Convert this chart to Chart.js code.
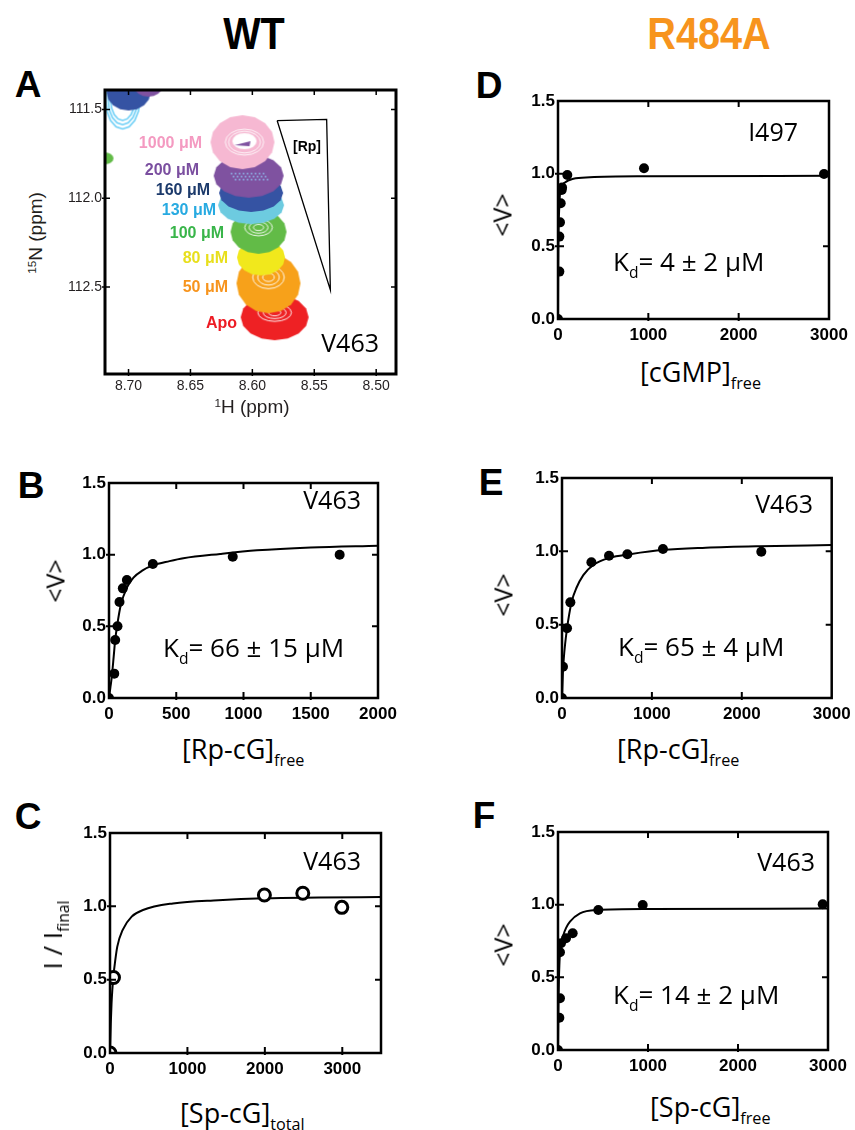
<!DOCTYPE html>
<html>
<head>
<meta charset="utf-8">
<script src="https://cdn.jsdelivr.net/npm/chart.js@4.4.1/dist/chart.umd.min.js"></script>
<style>
  body { margin: 0; width: 855px; height: 1130px; position: relative; overflow: hidden; background: #fff; }
  canvas { position: absolute; }
  .t { position: absolute; white-space: nowrap; line-height: 1; font-family: "Open Sans", sans-serif; color: #000; }
  .mid { transform: translate(-50%, -50%); }
  .right { transform: translate(-100%, -50%); }
  .left { transform: translateY(-50%); }
  .rot { transform: translate(-50%, -50%) rotate(-90deg); }
  .sub { font-size: 0.6em; position: relative; top: 0.45em; }
  .sup { font-size: 0.62em; position: relative; top: -0.5em; }
  .letter { font-family: "Liberation Sans", Arial, sans-serif; font-weight: bold; font-size: 37px; }
  .head { font-family: "Liberation Sans", Arial, sans-serif; font-weight: bold; font-size: 44px; transform: translate(-50%, -50%) scaleX(0.9); }
  .conc { font-family: "Liberation Sans", Arial, sans-serif; font-weight: bold; font-size: 16px; }
  .ppm { font-family: "Liberation Sans", Arial, sans-serif; font-size: 19px; color: #231f20; }
</style>
</head>
<body>
<script>
// Panel A: 1H/15N peak centres (ppm) of V463, from Apo up to 1000 uM Rp-cG
const peakLabels = ['Apo', '50 μM', '80 μM', '100 μM', '130 μM', '160 μM', '200 μM', '1000 μM'];
const peakH = [8.582, 8.587, 8.593, 8.595, 8.601, 8.601, 8.603, 8.608];
const peakN = [112.670, 112.479, 112.333, 112.189, 112.039, 111.970, 111.873, 111.684];
// neighbouring peaks cut by the top-left corner
const edgeH = [8.7048, 8.700, 8.684, 8.7194];
const edgeN = [111.449, 111.404, 111.371, 111.775];
// [Rp] wedge
const triH = [8.580, 8.540, 8.537, 8.580];
const triN = [111.562, 111.556, 112.517, 111.562];
const aXTicks = [8.70, 8.65, 8.60, 8.55, 8.50];
const aYTicks = [111.5, 112.0, 112.5];

// Panel B: WT, Rp-cG (free)
const bX = [0, 39, 46, 63, 78, 103, 133, 326, 920, 1715];
const bY = [0, 0.17, 0.405, 0.50, 0.67, 0.765, 0.823, 0.935, 0.986, 1.0];
const bFitX = [0, 10, 21, 35, 46, 63, 88, 133, 182, 250, 326, 450, 553, 826, 1100, 1500, 2000];
const bFitY = [0, 0.07, 0.15, 0.29, 0.405, 0.52, 0.65, 0.77, 0.84, 0.89, 0.925, 0.955, 0.975, 1.005, 1.03, 1.05, 1.063];

// Panel C: WT, Sp-cG (total), intensity ratio
const cX = [0, 45, 1994, 2490, 2994];
const cY = [0, 0.515, 1.077, 1.089, 0.993];
const cFitX = [0, 10, 20, 30, 45, 65, 94, 164, 280, 426, 813, 1400, 2000, 2700, 3500];
const cFitY = [0, 0.2, 0.34, 0.43, 0.53, 0.62, 0.725, 0.84, 0.93, 0.975, 1.02, 1.042, 1.055, 1.06, 1.064];

// Panel D: R484A, cGMP (free)
const dX = [0, 15, 15, 22, 30, 41, 45, 103, 952, 2945];
const dY = [0, 0.326, 0.567, 0.665, 0.796, 0.888, 0.905, 0.991, 1.037, 0.998];
const dFitX = [0, 2, 4, 8, 14, 22, 40, 77, 170, 354, 1000, 3000];
const dFitY = [0, 0.33, 0.5, 0.66, 0.77, 0.86, 0.91, 0.94, 0.965, 0.975, 0.982, 0.985];

// Panel E: R484A, Rp-cG (free)
const eX = [0, 11, 56, 93, 327, 523, 727, 1123, 2217];
const eY = [0, 0.213, 0.475, 0.652, 0.925, 0.97, 0.98, 1.016, 0.997];
const eFitX = [0, 10, 20, 35, 56, 80, 107, 160, 237, 348, 533, 756, 1126, 1600, 2200, 3000];
const eFitY = [0, 0.17, 0.27, 0.37, 0.475, 0.57, 0.657, 0.75, 0.838, 0.907, 0.956, 0.98, 1.01, 1.025, 1.035, 1.043];

// Panel F: R484A, Sp-cG (free)
const fX = [0, 15, 22, 22, 33, 89, 163, 448, 941, 2941];
const fY = [0, 0.222, 0.356, 0.672, 0.734, 0.769, 0.803, 0.963, 0.998, 1.003];
const fFitX = [0, 3, 6, 10, 15, 22, 35, 59, 90, 133, 244, 430, 1033, 3000];
const fFitY = [0, 0.2, 0.35, 0.48, 0.58, 0.67, 0.73, 0.79, 0.84, 0.883, 0.94, 0.963, 0.97, 0.973];

const fitYTicks = [0, 0.5, 1.0, 1.5];
const xTicks2000 = [0, 500, 1000, 1500, 2000];
const xTicks3000 = [0, 1000, 2000, 3000];

// styles for the contour blobs
const peakColors = ['#ee2124', '#f7a11a', '#f1e81c', '#62bb47', '#6dcbe0', '#3553a3', '#7f52a0', '#f6b8d2'];
const peakSize = [[34, 23], [32, 30], [24, 18], [28, 22], [33, 19], [32, 19], [35, 22], [32, 27]];
const peakKind = ['lines', 'lines', 'solid', 'lines', 'solid', 'solid', 'dots', 'hollow'];
const edgeColors = ['#6dcff6', '#3553a3', '#7f52a0', '#62bb47'];
const edgeSize = [[18, 30], [22, 18], [14, 10], [9, 6]];
const edgeKind = ['ring', 'solid', 'solid', 'solid'];
const textColors = ['#ed1c24', '#f7941d', '#e8df1c', '#39b54a', '#27aae1', '#1c3a6b', '#7b4fa0', '#f49ac1'];

const PT = 14, PR = 30, YW = 52, XH = 30;

function place(box) {
    const cv = document.createElement('canvas');
    cv.width = box.w + YW + PR;
    cv.height = box.h + PT + XH;
    cv.style.left = (box.l - YW) + 'px';
    cv.style.top = (box.t - PT) + 'px';
    document.body.appendChild(cv);
    return cv;
}

// nudge the layout padding until the plot area sits where it should
function settle(chart, pad, box) {
    for (let k = 0; k < 4; k++) {
        const a = chart.chartArea;
        const dt = a.top - PT, db = (PT + box.h) - a.bottom, dr = (YW + box.w) - a.right;
        if (Math.abs(dt) < 0.3 && Math.abs(db) < 0.3 && Math.abs(dr) < 0.3) break;
        pad.top -= dt;
        pad.bottom -= db;
        pad.right -= dr;
        chart.update();
    }
}

function txt(html, x, y, cls, style) {
    const d = document.createElement('div');
    d.className = 't ' + cls;
    d.innerHTML = html;
    d.style.left = x + 'px';
    d.style.top = y + 'px';
    if (style) d.style.cssText += style;
    document.body.appendChild(d);
}

// frame with inward ticks on all four sides
const framePlugin = {
    id: 'frame',
    afterDraw(chart, args, o) {
        const { ctx, chartArea: a, scales: { x, y } } = chart;
        const len = o.tick || 6;
        ctx.save();
        ctx.strokeStyle = '#000';
        ctx.lineWidth = o.tickWidth || 2;
        ctx.beginPath();
        x.ticks.forEach(t => {
            const px = x.getPixelForValue(t.value);
            if (px <= a.left + 2 || px >= a.right - 2) return;
            ctx.moveTo(px, a.bottom + 2); ctx.lineTo(px, a.bottom - len);
            ctx.moveTo(px, a.top); ctx.lineTo(px, a.top + len);
        });
        y.ticks.forEach(t => {
            const py = y.getPixelForValue(t.value);
            if (py <= a.top + 2 || py >= a.bottom - 2) return;
            ctx.moveTo(a.left - 3, py); ctx.lineTo(a.left + len, py);
            ctx.moveTo(a.right, py); ctx.lineTo(a.right - len, py);
        });
        ctx.stroke();
        ctx.lineWidth = o.width || 2.5;
        ctx.strokeRect(a.left, a.top, a.right - a.left, a.bottom - a.top);
        ctx.restore();
    }
};
Chart.register(framePlugin);

function peakImage(color, rx, ry, kind) {
    const c = document.createElement('canvas');
    c.width = Math.ceil(rx * 2) + 4;
    c.height = Math.ceil(ry * 2) + 4;
    const g = c.getContext('2d');
    const cx = c.width / 2, cy = c.height / 2;
    const poly = (sx, sy, dx, dy) => {
        g.beginPath();
        for (let i = 0; i < 16; i++) {
            const a = i / 16 * Math.PI * 2;
            g.lineTo(cx + (dx || 0) + Math.cos(a) * rx * sx, cy + (dy || 0) + Math.sin(a) * ry * sy);
        }
        g.closePath();
    };
    if (kind === 'ring') {
        g.strokeStyle = color;
        g.lineWidth = 1.6;
        [1, 0.85, 0.7].forEach(s => { poly(s * 0.95, s * 0.95); g.stroke(); });
        return c;
    }
    g.fillStyle = color;
    poly(1, 1);
    g.fill();
    if (kind === 'lines') {
        g.strokeStyle = 'rgba(255,255,255,0.9)';
        g.lineWidth = 1;
        [0.14, 0.26, 0.38].forEach(s => { poly(s * 1.3, s, 0, -ry * 0.2); g.stroke(); });
    }
    if (kind === 'dots') {
        g.fillStyle = '#8fb4e8';
        for (let i = -4; i <= 4; i++) {
            for (let j = -1; j <= 1; j++) {
                g.fillRect(cx + i * 4 + (j % 2) * 2, cy + j * 3, 1.6, 1.6);
            }
        }
    }
    if (kind === 'hollow') {
        g.strokeStyle = 'rgba(255,255,255,0.85)';
        g.lineWidth = 1;
        [0.5, 0.6].forEach(s => { poly(s, s * 0.8, 2, 0); g.stroke(); });
        g.fillStyle = '#fff';
        poly(0.38, 0.3, 2, -1);
        g.fill();
        g.fillStyle = '#7f52a0';
        g.beginPath();
        g.moveTo(cx - 8, cy + 3);
        g.lineTo(cx + 8, cy - 1);
        g.lineTo(cx + 7, cy + 4);
        g.closePath();
        g.fill();
    }
    return c;
}

const peakImgs = peakColors.map((col, i) => peakImage(col, peakSize[i][0], peakSize[i][1], peakKind[i]));
const edgeImgs = edgeColors.map((col, i) => peakImage(col, edgeSize[i][0], edgeSize[i][1], edgeKind[i]));

const tickFont = { family: '"Liberation Sans", Arial, sans-serif', size: 17, weight: 'bold' };
const ppmFont = { family: '"Liberation Sans", Arial, sans-serif', size: 14 };

// ---- Panel A: spectrum overlay
const boxA = { l: 105, t: 90, w: 291, h: 284 };
const padA = { left: 0, top: PT, right: PR, bottom: 0 };
const chartA = new Chart(place(boxA), {
    type: 'scatter',
    data: {
        datasets: [
            {
                data: triH.map((x, i) => ({ x, y: triN[i] })),
                showLine: true, borderColor: '#000', borderWidth: 1.3, pointRadius: 0, clip: 0
            },
            {
                data: peakH.map((x, i) => ({ x, y: peakN[i] })),
                pointStyle: ctx => peakImgs[ctx.dataIndex], pointRadius: 6, clip: 0
            },
            {
                data: edgeH.map((x, i) => ({ x, y: edgeN[i] })),
                pointStyle: ctx => edgeImgs[ctx.dataIndex], pointRadius: 6, clip: 0
            }
        ]
    },
    options: {
        responsive: false, animation: false, events: [],
        layout: { padding: padA, autoPadding: false },
        plugins: { legend: { display: false }, tooltip: { enabled: false }, frame: { width: 3, tick: 5, tickWidth: 1.5 } },
        scales: {
            x: {
                type: 'linear', reverse: true, min: 8.484, max: 8.719,
                grid: { display: false, drawTicks: false }, border: { display: false },
                afterFit: s => { s.height = XH; },
                afterBuildTicks: s => { s.ticks = aXTicks.map(v => ({ value: v })); },
                ticks: { padding: 4, autoSkip: false, maxRotation: 0, color: '#231f20', font: ppmFont, callback: v => v.toFixed(2) }
            },
            y: {
                type: 'linear', reverse: true, min: 111.39, max: 112.99,
                grid: { display: false, drawTicks: false }, border: { display: false },
                afterFit: s => { s.width = YW; },
                afterBuildTicks: s => { s.ticks = aYTicks.map(v => ({ value: v })); },
                ticks: { padding: 3, autoSkip: false, color: '#231f20', font: ppmFont, callback: v => v.toFixed(1) }
            }
        }
    }
});
settle(chartA, padA, boxA);

// ---- binding curves (B to F)
function fitChart(box, xs, ys, fitX, fitY, xMax, xTicks, open) {
    const pad = { left: 0, top: PT, right: PR, bottom: 0 };
    const chart = new Chart(place(box), {
        type: 'scatter',
        data: {
            datasets: [
                {
                    data: xs.map((x, i) => ({ x, y: ys[i] })),
                    pointRadius: open ? 6 : 5,
                    pointBackgroundColor: open ? '#fff' : '#000',
                    pointBorderColor: '#000',
                    pointBorderWidth: open ? 3 : 0
                },
                {
                    data: fitX.map((x, i) => ({ x, y: fitY[i] })),
                    showLine: true, pointRadius: 0, borderColor: '#000', borderWidth: 2,
                    cubicInterpolationMode: 'monotone'
                }
            ]
        },
        options: {
            responsive: false, animation: false, events: [],
            layout: { padding: pad, autoPadding: false },
            plugins: { legend: { display: false }, tooltip: { enabled: false }, frame: { width: 2.5, tick: 6 } },
            scales: {
                x: {
                    type: 'linear', min: 0, max: xMax,
                    grid: { display: false, drawTicks: false }, border: { display: false },
                    afterFit: s => { s.height = XH; },
                    afterBuildTicks: s => { s.ticks = xTicks.map(v => ({ value: v })); },
                    ticks: { padding: 6, autoSkip: false, maxRotation: 0, color: '#000', font: tickFont, callback: v => String(v) }
                },
                y: {
                    type: 'linear', min: 0, max: 1.5,
                    grid: { display: false, drawTicks: false }, border: { display: false },
                    afterFit: s => { s.width = YW; },
                    afterBuildTicks: s => { s.ticks = fitYTicks.map(v => ({ value: v })); },
                    ticks: { padding: 3, autoSkip: false, color: '#000', font: tickFont, callback: v => v.toFixed(1) }
                }
            }
        }
    });
    settle(chart, pad, box);
}

fitChart({ l: 108.8, t: 483, w: 269.2, h: 215 }, bX, bY, bFitX, bFitY, 2000, xTicks2000, false);
fitChart({ l: 110, t: 833, w: 271, h: 220 }, cX, cY, cFitX, cFitY, 3500, xTicks3000, true);
fitChart({ l: 558, t: 101, w: 271, h: 218 }, dX, dY, dFitX, dFitY, 3000, xTicks3000, false);
fitChart({ l: 562.3, t: 478, w: 269.7, h: 220 }, eX, eY, eFitX, eFitY, 3000, xTicks3000, false);
fitChart({ l: 558, t: 832, w: 270, h: 218 }, fX, fY, fFitX, fFitY, 3000, xTicks3000, false);

// ---- text
txt('WT', 254, 34, 'head');
txt('R484A', 709, 34, 'head', 'color:#f7941d;');
[['A', 28, 84], ['B', 31, 485], ['C', 28, 816], ['D', 489, 85], ['E', 491, 482], ['F', 484, 815]]
    .forEach(p => txt(p[0], p[1], p[2], 'letter mid'));

// panel A annotations
const concRight = [237, 228, 228, 224, 216, 210, 199, 202];
const concY = [323, 287, 258, 233, 210, 190, 170, 143];
peakLabels.forEach((lab, i) => txt(lab, concRight[i], concY[i], 'conc right', 'color:' + textColors[i] + ';'));
txt('[Rp]', 307, 146, 'conc mid', 'font-size:14px;');
txt('V463', 379, 342, 'right', 'font-size:25px;');
txt('<span class="sup">1</span>H (ppm)', 252, 406, 'ppm mid');
txt('<span class="sup">15</span>N (ppm)', 35, 233, 'ppm rot');

// residue labels
txt('V463', 361, 499, 'right', 'font-size:25px;');
txt('V463', 361, 860, 'right', 'font-size:25px;');
txt('I497', 798, 131, 'right', 'font-size:25px;');
txt('V463', 813, 503, 'right', 'font-size:25px;');
txt('V463', 815, 861, 'right', 'font-size:25px;');

// Kd values
txt('K<span class="sub">d</span>= 66 ± 15 μM', 163, 647, 'left', 'font-size:26px;');
txt('K<span class="sub">d</span>= 4 ± 2 μM', 613, 261, 'left', 'font-size:26px;');
txt('K<span class="sub">d</span>= 65 ± 4 μM', 618, 646, 'left', 'font-size:26px;');
txt('K<span class="sub">d</span>= 14 ± 2 μM', 613, 994, 'left', 'font-size:26px;');

// axis titles
txt('&lt;V&gt;', 55, 581, 'rot', 'font-size:25px;');
txt('I / I<span class="sub">final</span>', 52, 935, 'rot', 'font-size:26px;');
txt('&lt;V&gt;', 502, 215, 'rot', 'font-size:25px;');
txt('&lt;V&gt;', 503, 595, 'rot', 'font-size:25px;');
txt('&lt;V&gt;', 503, 945, 'rot', 'font-size:25px;');
txt('[Rp-cG]<span class="sub">free</span>', 182, 748, 'left', 'font-size:27px;');
txt('[Sp-cG]<span class="sub">total</span>', 180, 1112, 'left', 'font-size:27px;');
txt('[cGMP]<span class="sub">free</span>', 640, 371, 'left', 'font-size:27px;');
txt('[Rp-cG]<span class="sub">free</span>', 617, 748, 'left', 'font-size:27px;');
txt('[Sp-cG]<span class="sub">free</span>', 650, 1106, 'left', 'font-size:27px;');
</script>
</body>
</html>
